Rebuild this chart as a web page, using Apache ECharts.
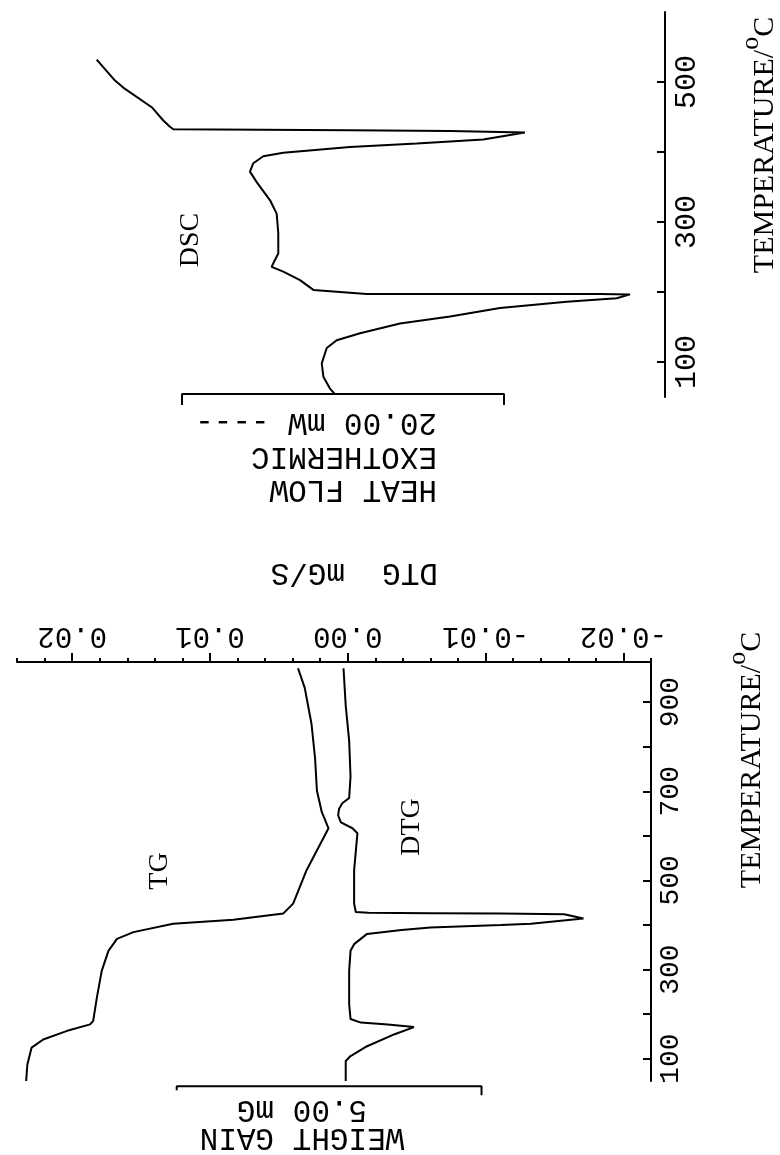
<!DOCTYPE html>
<html>
<head>
<meta charset="utf-8">
<title>TG / DTG / DSC</title>
<script src="https://cdn.jsdelivr.net/npm/echarts@6/dist/echarts.min.js"></script>
<style>
  html, body { margin: 0; padding: 0; background: #fff; }
  #main { width: 780px; height: 1155px; }
</style>
</head>
<body>
<div id="main"></div>
<script>
// DSC trace: temperature (°C) / heat flow (mW, relative baseline)
var dscTemp = [54, 62, 79, 98, 120, 131, 141, 155, 165, 177, 186, 191, 196.6, 197, 197.2, 203, 217, 229, 236, 241,
               255, 284, 312, 331, 357, 372, 384, 394, 399, 407, 412, 418, 428, 430, 431, 432.5, 436, 445, 464, 492, 502, 532];
var dscHeat = [20.5, 20.81, 21.22, 21.32, 21.01, 20.39, 18.94, 16.46, 13.35, 10.25, 6.11, 3.0, 2.17, 4.04, 18.53, 21.84, 22.67, 23.71, 24.43, 24.33,
               24.02, 24.02, 24.12, 24.53, 25.36, 25.78, 25.57, 24.95, 23.71, 19.57, 15.42, 11.29, 8.7, 13.35, 19.57, 30.54, 30.75, 31.16, 31.88, 33.65, 34.16, 35.3];

// TG trace: temperature (°C) / weight (mG, relative)
var tgTemp = [50, 87, 125, 143, 162, 177, 185, 237, 297, 342, 369, 384, 403, 412, 426, 448, 523, 617, 637, 653, 701, 773, 852, 932, 976];
var tgWeight = [10.25, 10.23, 10.16, 9.97, 9.59, 9.20, 9.15, 9.09, 9.01, 8.90, 8.76, 8.49, 7.84, 6.85, 6.03, 5.87, 5.65, 5.29, 5.35, 5.40, 5.48, 5.51, 5.57, 5.68, 5.79];

// DTG trace: temperature (°C) / rate (mG/S)
var dtgTemp = [50, 95, 106, 128, 155, 171, 177, 181, 189, 222, 297, 342, 357, 380, 389, 394.5, 400, 403, 414.5, 424,
               425.5, 426.5, 427.5, 429, 448, 523, 606, 617, 630, 646, 661, 673, 685, 733, 813, 892, 976];
var dtgRate = [0.00015, 0.00015, -0.0002, -0.0014, -0.0034, -0.0048, -0.0029, -0.00095, -0.0002, -0.0001,
               -0.0001, -0.0002, -0.00046, -0.0014, -0.0039, -0.006, -0.0111, -0.0133, -0.0171, -0.0157,
               -0.0111, -0.006, -0.0015, -0.00058, -0.00046, -0.00046, -0.0007, -0.00034, 0.0005, 0.0007,
               0.00063, 0.0004, -0.0001, -0.0002, -0.0001, 0.00015, 0.00031];

// ticks and labels
var dscTempTicks = [100, 200, 300, 400, 500];
var dscTempLabels = [100, 300, 500];
var tempTicks = [100, 200, 300, 400, 500, 600, 700, 800, 900];
var tempLabels = [100, 300, 500, 700, 900];
var dtgLabels = [-0.02, -0.01, 0, 0.01, 0.02];

// scale bars: 20.00 mW and 5.00 mG
var dscBar = [10, 30];
var tgBar = [2.78, 7.78];

function pairs(xs, ys) {
  return xs.map(function (x, i) { return [x, ys[i]]; });
}

var black = '#000';
var mono = 'Liberation Mono';
var serif = 'Liberation Serif';

var lineStyle = { color: black, width: 2 };

function txt(text, x, y, rot, size, family, align) {
  return {
    type: 'text', x: x, y: y, rotation: rot,
    style: {
      text: text, fill: black, fontSize: size, fontFamily: family,
      align: align || 'center', verticalAlign: 'middle',
      textAlign: align || 'center', textVerticalAlign: 'middle'
    }
  };
}

function tempTitle(x, y) {
  return {
    type: 'text', x: x, y: y, rotation: Math.PI / 2,
    style: {
      text: '{m|TEMPERATURE/}{s|o}{m|C}',
      fill: black, fontFamily: serif, fontSize: 30,
      align: 'center', verticalAlign: 'middle',
      textAlign: 'center', textVerticalAlign: 'middle',
      rich: {
        m: { fontFamily: serif, fontSize: 30, lineHeight: 54, fill: black },
        s: { fontFamily: serif, fontSize: 26, lineHeight: 26, verticalAlign: 'top', fill: black }
      }
    }
  };
}

var chart = echarts.init(document.getElementById('main'));

var option = {
  animation: false,
  backgroundColor: '#fff',
  grid: [
    { left: 21, right: 115, top: 12, bottom: 758, outerBoundsMode: 'none' },
    { left: 17, right: 129, top: 662, bottom: 74, outerBoundsMode: 'none' }
  ],
  xAxis: [
    // DSC heat flow (no scale shown, only the bar)
    { gridIndex: 0, type: 'value', min: 0, max: 40, inverse: true, show: false, axisLine: { onZero: false } },
    // DTG minor ticks
    {
      gridIndex: 1, type: 'value', position: 'top', min: -0.022, max: 0.024, interval: 0.002, inverse: true,
      axisLine: { show: true, onZero: false, lineStyle: lineStyle },
      axisTick: { show: true, length: 4, lineStyle: lineStyle },
      axisLabel: { show: false },
      splitLine: { show: false }
    },
    // DTG major ticks + labels
    {
      gridIndex: 1, type: 'value', position: 'top', min: -0.022, max: 0.024, inverse: true,
      axisLine: { show: false, onZero: false },
      axisTick: { show: true, length: 9, customValues: dtgLabels, lineStyle: lineStyle },
      axisLabel: {
        customValues: dtgLabels, rotate: 180, margin: 12, color: black,
        fontFamily: mono, fontSize: 29,
        formatter: function (v) { return v.toFixed(2); }
      },
      splitLine: { show: false }
    },
    // TG weight
    { gridIndex: 1, type: 'value', min: 0, max: 10.4, inverse: true, show: false, axisLine: { onZero: false } }
  ],
  yAxis: [
    {
      gridIndex: 0, type: 'value', position: 'right', min: 50, max: 600,
      axisLine: { show: true, onZero: false, lineStyle: lineStyle },
      axisTick: { show: true, inside: true, length: 8, customValues: dscTempTicks, lineStyle: lineStyle },
      axisLabel: { customValues: dscTempLabels, rotate: 90, margin: 7, color: black, fontFamily: mono, fontSize: 30 },
      splitLine: { show: false }
    },
    {
      gridIndex: 1, type: 'value', position: 'right', min: 50, max: 990,
      axisLine: { show: true, onZero: false, lineStyle: lineStyle },
      axisTick: { show: true, inside: true, length: 8, customValues: tempTicks, lineStyle: lineStyle },
      axisLabel: { customValues: tempLabels, rotate: 90, margin: 6, color: black, fontFamily: mono, fontSize: 28 },
      splitLine: { show: false }
    }
  ],
  series: [
    {
      name: 'DSC', type: 'line', xAxisIndex: 0, yAxisIndex: 0,
      data: pairs(dscHeat, dscTemp), showSymbol: false, symbol: 'none', lineStyle: lineStyle
    },
    {
      name: 'TG', type: 'line', xAxisIndex: 3, yAxisIndex: 1,
      data: pairs(tgWeight, tgTemp), showSymbol: false, symbol: 'none', lineStyle: lineStyle
    },
    {
      name: 'DTG', type: 'line', xAxisIndex: 1, yAxisIndex: 1,
      data: pairs(dtgRate, dtgTemp), showSymbol: false, symbol: 'none', lineStyle: lineStyle
    },
    {
      name: '20.00 mW', type: 'line', xAxisIndex: 0, yAxisIndex: 0, clip: false, silent: true,
      data: [[dscBar[1], 38.5], [dscBar[1], 54.2], [dscBar[0], 54.2], [dscBar[0], 38.5]],
      showSymbol: false, symbol: 'none', lineStyle: lineStyle
    },
    {
      name: '5.00 mG', type: 'line', xAxisIndex: 3, yAxisIndex: 1, clip: false, silent: true,
      data: [[tgBar[1], 29], [tgBar[1], 38], [tgBar[0], 38], [tgBar[0], 18]],
      showSymbol: false, symbol: 'none', lineStyle: lineStyle
    }
  ],
  graphic: [
    txt('DSC', 191, 240, Math.PI / 2, 28, serif),
    txt('TG', 160, 871, Math.PI / 2, 28, serif),
    txt('DTG', 412, 827, Math.PI / 2, 28, serif),
    tempTitle(765, 145),
    tempTitle(752, 760),
    txt('HEAT FLOW', 437, 489, Math.PI, 31, mono, 'left'),
    txt('EXOTHERMIC', 437, 456, Math.PI, 31, mono, 'left'),
    txt('20.00 mW ----', 437, 422, Math.PI, 31, mono, 'left'),
    txt('DTG  mG/S', 438, 572, Math.PI, 31, mono, 'left'),
    txt('5.00 mG', 302, 1109, Math.PI, 31, mono),
    txt('WEIGHT GAIN', 302, 1137, Math.PI, 31, mono)
  ]
};

chart.setOption(option);
</script>
</body>
</html>
